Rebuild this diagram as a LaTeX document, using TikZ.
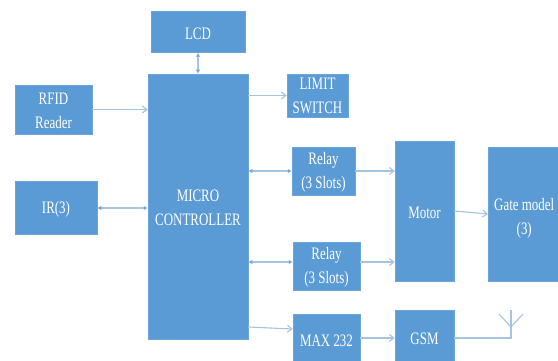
\documentclass[tikz,border=0pt]{standalone}
\usepackage{fontspec}
\setmainfont{Liberation Serif}
\usetikzlibrary{arrows.meta}
\definecolor{blk}{HTML}{5B9BD5}
\definecolor{lnk}{HTML}{A5C3E2}
\newcommand{\lbl}[2][-1.5pt]{\raisebox{#1}[\height][\depth]{\scalebox{.74}[1]{#2}}}
\tikzset{
  block/.style={fill=blk,draw=blk!90!white,line width=.5pt,text=white,inner sep=0pt,align=center,font=\fontsize{17.5}{24}\selectfont},
  link/.style={draw=lnk,line width=1.1pt,-{Straight Barb[length=4.5pt,width=7pt]}},
  duplex/.style={draw=lnk,line width=1.1pt,{Latex[length=4pt,width=4.5pt,color=blk!85!white]}-{Latex[length=4pt,width=4.5pt,color=blk!85!white]}},
  aerial/.style={draw=lnk,line width=1.1pt}
}
\begin{document}
\begin{tikzpicture}[x=1pt,y=-1pt]
\useasboundingbox (0,0) rectangle (558,361);
\node[block,minimum width=94pt,minimum height=41pt] (lcd) at (198,32) {\lbl{LCD}};
\node[block,minimum width=100pt,minimum height=265pt] (mc) at (198,206.5) {\lbl{MICRO}\\\lbl{CONTROLLER}};
\node[block,minimum width=77pt,minimum height=49pt] (rfid) at (53.5,109.5) {\lbl{RFID}\\\lbl{Reader}};
\node[block,minimum width=82pt,minimum height=53pt] (ir) at (56,208) {\lbl{IR(3)}};
\node[block,minimum width=61pt,minimum height=43pt] (limit) at (317.5,95.5) {\lbl[-.5pt]{LIMIT}\\\lbl[-.5pt]{SWITCH}};
\node[block,minimum width=63pt,minimum height=48pt] (relayA) at (323.5,171) {\lbl{Relay}\\\lbl{(3 Slots)}};
\node[block,minimum width=67pt,minimum height=48pt] (relayB) at (326.5,266) {\lbl{Relay}\\\lbl{(3 Slots)}};
\node[block,minimum width=59pt,minimum height=140pt] (motor) at (424.5,211) {\lbl{Motor}};
\node[block,minimum width=72pt,minimum height=134pt,anchor=west] (gate) at (488,214) {\lbl[-4pt]{Gate model}\\\lbl[-4pt]{(3)}};
\node[block,minimum width=67pt,minimum height=50pt,anchor=north] (max) at (326.5,314) {\lbl{MAX 232}};
\node[block,minimum width=59pt,minimum height=54pt,anchor=north] (gsm) at (424.5,310) {\lbl{GSM}};
\coordinate (mcR) at (mc.east |- 0,262);
\coordinate (relayBL) at (relayB.west |- 0,262);
\coordinate (relayBR) at (relayB.east |- 0,262);
\coordinate (motorB) at (motor.west |- 0,262);
\coordinate (mcO) at (mc.east |- 0,327);
\coordinate (maxL) at (max.west |- 0,329);
\coordinate (maxR) at (max.east |- 0,338);
\coordinate (gsmL) at (gsm.west |- 0,338);
\coordinate (gsmR) at (gsm.east |- 0,338);
\coordinate (foot) at (511,338);
\coordinate (top) at (511,310);
\coordinate (fork) at (511,327);
\coordinate (armL) at (499,314);
\coordinate (armR) at (523,314);
\draw[duplex] (lcd.south) -- (mc.north);
\draw[link] (rfid.east) -- (rfid.east -| mc.west);
\draw[duplex] (ir.east) -- (ir.east -| mc.west);
\draw[link] (limit.west -| mc.east) -- (limit.west);
\draw[duplex] (relayA.west -| mc.east) -- (relayA.west);
\draw[duplex] (mcR) -- (relayBL);
\draw[link] (relayA.east) -- (relayA.east -| motor.west);
\draw[link] (relayBR) -- (motorB);
\draw[link] (motor.east) -- (gate.west);
\draw[link] (mcO) -- (maxL);
\draw[link] (maxR) -- (gsmL);
\draw[aerial] (gsmR) -- (foot) -- (top);
\draw[aerial] (armL) -- (fork) -- (armR);
\end{tikzpicture}
\end{document}
